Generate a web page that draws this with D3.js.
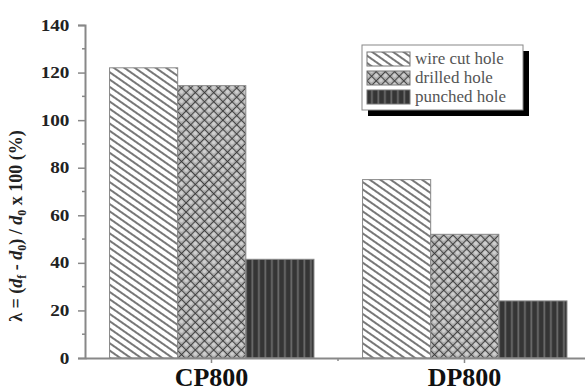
<!DOCTYPE html>
<html>
<head>
<meta charset="utf-8">
<script src="https://cdn.jsdelivr.net/npm/d3@7"></script>
<style>
  body { margin: 0; background: #fff; }
</style>
</head>
<body>
<svg width="585" height="392"></svg>
<script>
// Data
var categories = ["CP800", "DP800"];
var series = ["wire cut hole", "drilled hole", "punched hole"];
var wireCut = [122, 75];
var drilled = [114.5, 52];
var punched = [41.5, 24];
var yTicks = [0, 20, 40, 60, 80, 100, 120, 140];

var values = [wireCut, drilled, punched];
var serif = "'Liberation Serif', 'DejaVu Serif', 'Times New Roman', serif";

var svg = d3.select("svg");

// hatch patterns
var defs = svg.append("defs");

var p1 = defs.append("pattern").attr("id", "pWire")
  .attr("patternUnits", "userSpaceOnUse")
  .attr("width", 6).attr("height", 6)
  .attr("patternTransform", "rotate(35)");
p1.append("rect").attr("width", 6).attr("height", 6).attr("fill", "#fff");
p1.append("line").attr("x1", 0).attr("x2", 6).attr("y1", 3).attr("y2", 3)
  .attr("stroke", "#555").attr("stroke-width", 1.6);

var p2 = defs.append("pattern").attr("id", "pDrill")
  .attr("patternUnits", "userSpaceOnUse")
  .attr("width", 6.5).attr("height", 6.5)
  .attr("patternTransform", "rotate(45)");
p2.append("rect").attr("width", 6.5).attr("height", 6.5).attr("fill", "#a9a9a9");
p2.append("circle").attr("cx", 3.25).attr("cy", 3.25).attr("r", 2)
  .attr("fill", "#cfcfcf");
p2.append("line").attr("x1", 0).attr("x2", 6.5).attr("y1", 0).attr("y2", 0)
  .attr("stroke", "#333").attr("stroke-width", 1.6);
p2.append("line").attr("x1", 0).attr("x2", 0).attr("y1", 0).attr("y2", 6.5)
  .attr("stroke", "#333").attr("stroke-width", 1.6);

var p3 = defs.append("pattern").attr("id", "pPunch")
  .attr("patternUnits", "userSpaceOnUse")
  .attr("width", 6.5).attr("height", 6);
p3.append("rect").attr("width", 6.5).attr("height", 6).attr("fill", "#353535");
p3.append("rect").attr("x", 4).attr("width", 1.8).attr("height", 6).attr("fill", "#6a6a6a");

var fills = ["url(#pWire)", "url(#pDrill)", "url(#pPunch)"];

// scales
var x = d3.scaleBand().domain(categories).range([85, 591]);
var x1 = d3.scaleBand().domain(series)
  .range([x.bandwidth() * 0.097, x.bandwidth() * 0.905]);
var y = d3.scaleLinear().domain([0, 140]).range([358, 25]);

// bars
categories.forEach(function (c, ci) {
  var g = svg.append("g").attr("transform", "translate(" + x(c) + ",0)");
  g.selectAll("rect")
    .data(series)
    .enter()
    .append("rect")
    .attr("x", function (s) { return x1(s); })
    .attr("width", x1.bandwidth())
    .attr("y", function (s, si) { return y(values[si][ci]); })
    .attr("height", function (s, si) { return y(0) - y(values[si][ci]); })
    .attr("fill", function (s, si) { return fills[si]; })
    .attr("stroke", "#888")
    .attr("stroke-width", 1);
});

// y axis
var yAxis = svg.append("g")
  .attr("transform", "translate(85,0)")
  .call(d3.axisLeft(y).tickValues(yTicks).tickSize(7).tickPadding(6));
yAxis.select(".domain").attr("stroke", "#888").attr("stroke-width", 2);
yAxis.selectAll(".tick line").attr("stroke", "#888").attr("stroke-width", 1.5);
yAxis.selectAll(".tick text")
  .style("font-family", serif)
  .attr("font-size", 16).attr("font-weight", "bold").attr("fill", "#222")
  .attr("transform", "scale(1.2,1)");
svg.append("g").attr("transform", "translate(85,0)")
  .selectAll("line")
  .data(d3.range(10, 140, 20))
  .enter()
  .append("line")
  .attr("x1", -3).attr("x2", 0)
  .attr("y1", function (d) { return y(d); })
  .attr("y2", function (d) { return y(d); })
  .attr("stroke", "#888").attr("stroke-width", 1.5);

// x axis
var xAxis = svg.append("g")
  .attr("transform", "translate(0,358)")
  .call(d3.axisBottom(x).tickSize(5).tickPadding(8).tickSizeOuter(0));
xAxis.select(".domain").attr("stroke", "#888").attr("stroke-width", 2);
xAxis.selectAll(".tick line").attr("stroke", "#888").attr("stroke-width", 1.5);
xAxis.selectAll(".tick text")
  .style("font-family", serif)
  .attr("font-size", 26).attr("font-weight", "bold").attr("fill", "#111")
  .attr("y", 28).attr("dy", 0);
svg.append("line")
  .attr("x1", x("DP800")).attr("x2", x("DP800"))
  .attr("y1", 358).attr("y2", 361)
  .attr("stroke", "#888").attr("stroke-width", 1.5);

// y axis title
var yt = svg.append("text")
  .attr("transform", "translate(22,226) rotate(-90)")
  .attr("text-anchor", "middle")
  .style("font-family", serif)
  .attr("font-size", 18).attr("font-weight", "bold").attr("fill", "#222");
yt.append("tspan").text("\u03bb = (");
yt.append("tspan").attr("font-style", "italic").text("d");
yt.append("tspan").attr("font-size", 12).attr("dy", 4).text("f");
yt.append("tspan").attr("dy", -4).text(" - ");
yt.append("tspan").attr("font-style", "italic").text("d");
yt.append("tspan").attr("font-size", 12).attr("dy", 4).text("0");
yt.append("tspan").attr("dy", -4).text(") / ");
yt.append("tspan").attr("font-style", "italic").text("d");
yt.append("tspan").attr("font-size", 12).attr("dy", 4).text("0");
yt.append("tspan").attr("dy", -4).text(" x 100 (%)");

// legend
var lg = svg.append("g").attr("transform", "translate(362,45)");
lg.append("rect").attr("x", 6).attr("y", 6).attr("width", 161).attr("height", 65).attr("fill", "#000");
lg.append("rect").attr("width", 161).attr("height", 65)
  .attr("fill", "#fff").attr("stroke", "#888").attr("stroke-width", 1);
series.forEach(function (s, i) {
  var row = lg.append("g").attr("transform", "translate(5," + (7 + i * 19) + ")");
  row.append("rect").attr("width", 43).attr("height", 14)
    .attr("fill", fills[i]).attr("stroke", "#777");
  row.append("text").attr("x", 48).attr("y", 12)
    .style("font-family", serif)
    .attr("font-size", 17).attr("fill", "#555").text(s);
});
</script>
</body>
</html>
